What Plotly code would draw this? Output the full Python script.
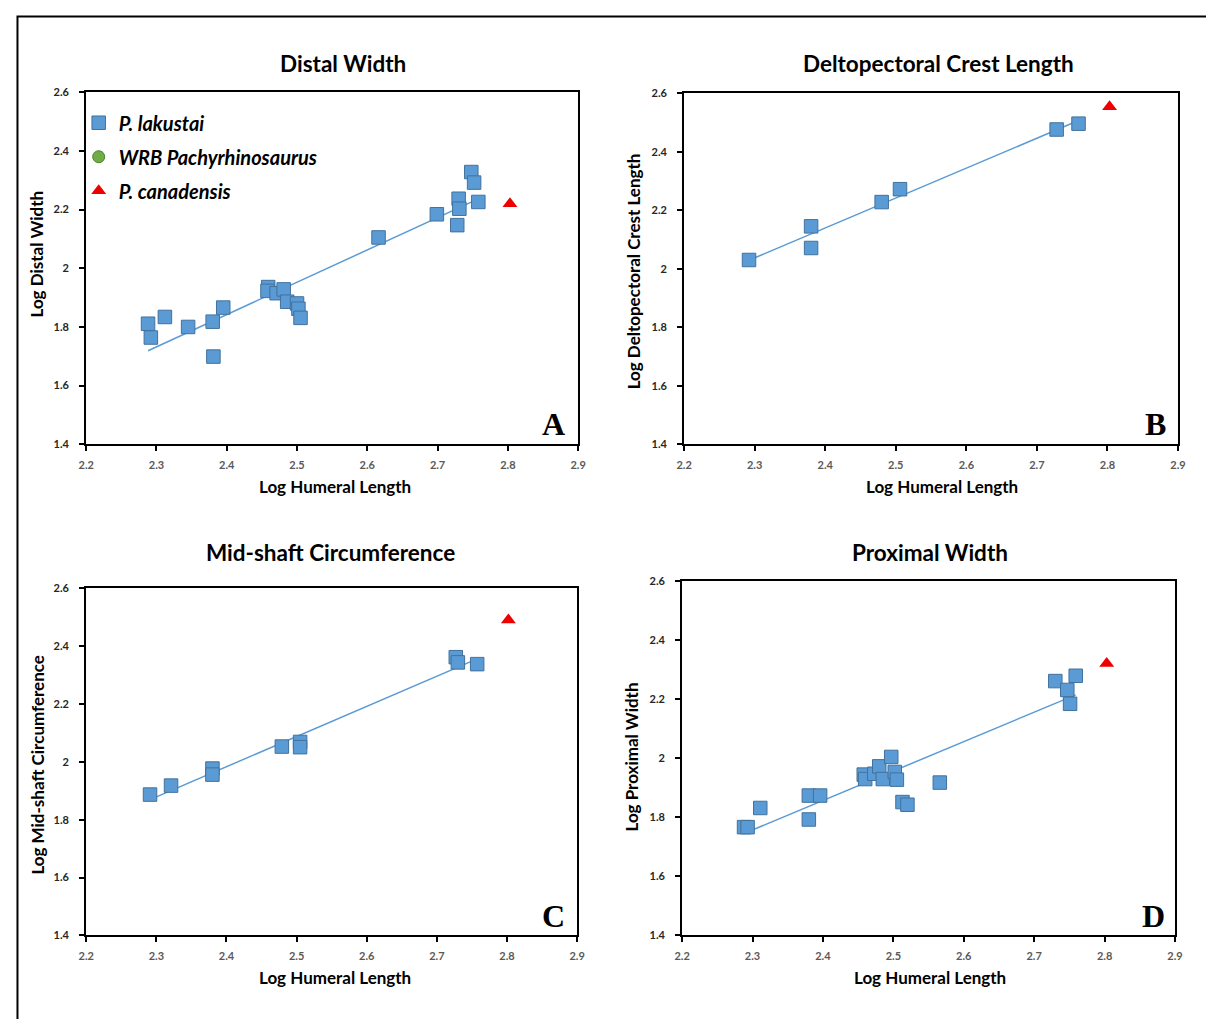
import numpy as np
import plotly.graph_objects as go

W, H = 1214, 1019
# The photographed page shows the figure scaled by ~1214/1230 and shifted by the
# page margins; positions below are given in photo pixels and mapped back.
S = 1214 / 1230
SHIFT = 16

# ---------------- data ----------------
# Panel A: Distal Width
a_x = [2.288, 2.292, 2.312, 2.345, 2.380, 2.381, 2.395, 2.459, 2.458, 2.471, 2.481, 2.486,
       2.500, 2.502, 2.505, 2.616, 2.699, 2.728, 2.730, 2.731, 2.748, 2.752, 2.758]
a_y = [1.811, 1.764, 1.834, 1.800, 1.818, 1.699, 1.866, 1.936, 1.923, 1.915, 1.928, 1.886,
       1.880, 1.862, 1.831, 2.105, 2.184, 2.147, 2.237, 2.203, 2.328, 2.292, 2.226]
a_can = (2.803, 2.220)

# Panel B: Deltopectoral Crest Length
b_x = [2.292, 2.380, 2.380, 2.480, 2.506, 2.728, 2.759]
b_y = [2.030, 2.145, 2.071, 2.228, 2.272, 2.476, 2.496]
b_can = (2.803, 2.554)

# Panel C: Mid-shaft Circumference
c_x = [2.291, 2.321, 2.380, 2.380, 2.479, 2.505, 2.505, 2.727, 2.730, 2.7575]
c_y = [1.887, 1.918, 1.977, 1.956, 2.053, 2.069, 2.051, 2.362, 2.344, 2.338]
c_can = (2.802, 2.491)

# Panel D: Proximal Width
d_x = [2.288, 2.293, 2.311, 2.380, 2.396, 2.380, 2.458, 2.460, 2.473, 2.480, 2.485,
       2.497, 2.502, 2.505, 2.513, 2.520, 2.566, 2.730, 2.747, 2.751, 2.759]
d_y = [1.767, 1.767, 1.832, 1.874, 1.874, 1.793, 1.945, 1.930, 1.948, 1.973, 1.930,
       2.005, 1.954, 1.928, 1.852, 1.843, 1.918, 2.262, 2.232, 2.185, 2.280]
d_can = (2.803, 2.322)

titles = ["Distal Width", "Deltopectoral Crest Length", "Mid-shaft Circumference", "Proximal Width"]
ytitles = ["Log Distal Width", "Log Deltopectoral Crest Length",
           "Log Mid-shaft Circumference", "Log Proximal Width"]
xtitle = "Log Humeral Length"
letters = ["A", "B", "C", "D"]
legend_names = ["P. lakustai", "WRB Pachyrhinosaurus", "P. canadensis"]

x_range = [2.2, 2.9]
y_range = [1.4, 2.6]

# ---------------- layout geometry (photo pixels) ----------------
boxes = [  # x0, x1, ytop, ybottom
    (86, 578, 93, 445),
    (684, 1178, 94, 445),
    (86, 577, 589, 936),
    (682, 1175, 582, 936),
]
title_pos = [(343, 64), (938, 64), (330, 553), (930, 553)]
xtitle_pos = [(335, 487), (942, 487), (335, 978), (930, 978)]
ytitle_pos = [(36, 255), (633, 272), (37, 765), (631, 758)]
letter_pos = [(553, 425), (1155, 425), (553, 917), (1153, 917)]


def px(x):
    return (x / S - SHIFT) / W


def py(y):
    return 1 - (y / S - SHIFT) / H


BLUE = "#5B9BD5"
BLUE_EDGE = "#41719C"
RED = "#EE0000"
GREEN = "#70AD47"

fig = go.Figure()

panels = [(a_x, a_y, a_can), (b_x, b_y, b_can), (c_x, c_y, c_can), (d_x, d_y, d_can)]

for i, (vx, vy, can) in enumerate(panels):
    xa = "x" if i == 0 else f"x{i+1}"
    ya = "y" if i == 0 else f"y{i+1}"
    xs = np.array(vx)
    ys = np.array(vy)
    m, b = np.polyfit(xs, ys, 1)
    lx = np.array([xs.min(), xs.max()])
    fig.add_trace(go.Scatter(x=lx, y=m * lx + b, mode="lines",
                             line=dict(color=BLUE, width=1.5),
                             showlegend=False, hoverinfo="skip", xaxis=xa, yaxis=ya))
    fig.add_trace(go.Scatter(x=vx, y=vy, mode="markers", name=legend_names[0],
                             legendgroup="g1", showlegend=(i == 0),
                             marker=dict(symbol="square", size=13.5, color=BLUE,
                                         line=dict(color=BLUE_EDGE, width=1)),
                             xaxis=xa, yaxis=ya))
    if i == 0:
        fig.add_trace(go.Scatter(x=[None], y=[None], mode="markers", name=legend_names[1],
                                 legendgroup="g2", showlegend=True,
                                 marker=dict(symbol="circle", size=12, color=GREEN,
                                             line=dict(color="#507E32", width=1)),
                                 xaxis=xa, yaxis=ya))
    fig.add_trace(go.Scatter(x=[can[0]], y=[can[1]], mode="markers", name=legend_names[2],
                             legendgroup="g3", showlegend=(i == 0),
                             marker=dict(symbol="triangle-up", size=13, color=RED,
                                         line=dict(width=0)),
                             xaxis=xa, yaxis=ya))

FONT = "Lato, 'Open Sans', sans-serif"

axis_common = dict(showline=True, linecolor="black", linewidth=2, mirror=True,
                   ticks="outside", ticklen=5, tickwidth=1.5, tickcolor="black",
                   showgrid=False, zeroline=False, fixedrange=True)

layout_axes = {}
for i, (x0, x1, yt, yb) in enumerate(boxes):
    xn = "xaxis" if i == 0 else f"xaxis{i+1}"
    yn = "yaxis" if i == 0 else f"yaxis{i+1}"
    ya = "y" if i == 0 else f"y{i+1}"
    xa = "x" if i == 0 else f"x{i+1}"
    layout_axes[xn] = dict(axis_common, domain=[px(x0), px(x1)], range=x_range,
                           dtick=0.1, tick0=2.2, anchor=ya,
                           tickfont=dict(family=FONT, size=11, color="#595959", weight="bold"),
                           ticklabelstandoff=4)
    layout_axes[yn] = dict(axis_common, domain=[py(yb), py(yt)], range=y_range,
                           dtick=0.2, tick0=1.4, anchor=xa,
                           tickfont=dict(family=FONT, size=11, color="#262626", weight="bold"),
                           ticklabelstandoff=8)

annotations = []
for i in range(4):
    tx, ty = title_pos[i]
    annotations.append(dict(x=px(tx), y=py(ty), xref="paper", yref="paper",
                            text=titles[i], showarrow=False, xanchor="center", yanchor="middle",
                            font=dict(family=FONT, size=22.5, color="black", weight="bold")))
    tx, ty = xtitle_pos[i]
    annotations.append(dict(x=px(tx), y=py(ty), xref="paper", yref="paper",
                            text=xtitle, showarrow=False, xanchor="center", yanchor="middle",
                            font=dict(family=FONT, size=17, color="black", weight="bold")))
    tx, ty = ytitle_pos[i]
    annotations.append(dict(x=px(tx), y=py(ty), xref="paper", yref="paper",
                            text=ytitles[i], showarrow=False, xanchor="center", yanchor="middle",
                            textangle=-90,
                            font=dict(family=FONT, size=17, color="black", weight="bold")))
    tx, ty = letter_pos[i]
    annotations.append(dict(x=px(tx), y=py(ty), xref="paper", yref="paper",
                            text=letters[i], showarrow=False, xanchor="center", yanchor="middle",
                            font=dict(family="'Liberation Serif', 'DejaVu Serif', serif",
                                      size=32, color="black", weight="bold")))

shapes = [dict(type="rect", xref="paper", yref="paper",
               x0=1.5 / W, x1=1.05, y0=-0.05, y1=1 - 1.5 / H,
               line=dict(color="black", width=2), fillcolor="rgba(0,0,0,0)")]

fig.update_layout(
    width=W, height=H,
    margin=dict(l=0, r=0, t=0, b=0),
    paper_bgcolor="white", plot_bgcolor="white",
    showlegend=True,
    legend=dict(x=px(78.5), y=py(104), xanchor="left", yanchor="top",
                bgcolor="rgba(0,0,0,0)", borderwidth=0,
                font=dict(family=FONT, size=20, color="black", style="italic", weight="bold"),
                tracegroupgap=5, itemsizing="trace", traceorder="grouped"),
    annotations=annotations,
    shapes=shapes,
    **layout_axes,
)

fig.write_html("out.html")
